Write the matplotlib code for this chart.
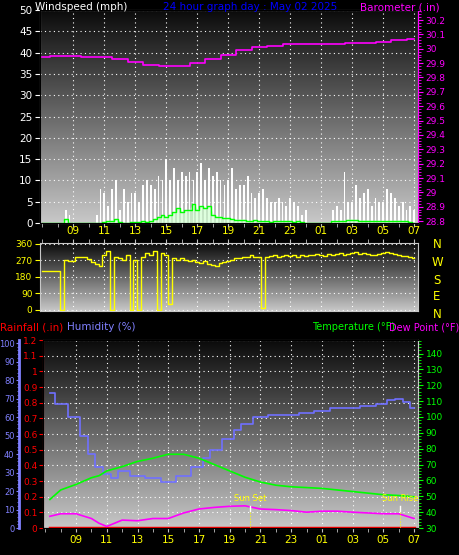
import numpy as np
import matplotlib
matplotlib.use("Agg")
import matplotlib.pyplot as plt
from matplotlib.ticker import MultipleLocator
from matplotlib.colors import LinearSegmentedColormap

# ---- data ----
t15 = [7 + 0.25 * i for i in range(97)]
gust = [0,0,0,0, 0,0,3,2, 0,0,0,0, 0,0,2,8, 7,4,8,10, 3,8,5,7, 7,5,9,10, 9,8,11,10,
        15,10,13,10, 12,11,12,10, 12,14,10,13, 11,12,10,9, 10,13,8,9, 9,11,7,6, 7,8,6,5,
        5,6,5,4, 6,5,4,2, 3,0,0,0, 0,0,0,3, 4,3,12,5, 5,9,6,7, 8,4,6,5, 5,8,7,6, 4,5,3,4, 3]
avg = [0,0,0,0, 0,0,1,0, 0,0,0,0, 0,0,0,0, 0.3,0.5,0.5,1, 0.2,0,0,0.3, 0.2,0.3,0.5,0.3,
       0.4,1,1.5,1.8, 1.5,2,2.5,3.5, 2.5,3,3,4.5, 3,4,3.5,4, 2,1.5,1.5,1.2, 1.2,1,0.8,0.8,
       0.8,0.5,0.6,0.7, 0.5,0.4,0.5,0.3, 0.5,0.4,0.5,0.6, 0.5,0.3,0.5,0.2, 0,0,0,0, 0,0,0,0.5,
       0.5,0.5,0.6,0.8, 0.8,0.7,0.6,0.6, 0.6,0.5,0.6,0.5, 0.5,0.5,0.5,0.6, 0.6,0.5,0.5,0.3, 0]
direction = [210,210,210,210, 210,0,270,265, 265,290,290,290, 275,260,250,240, 300,320,0,290,
             280,270,300,0, 270,0,290,310, 300,320,0,310, 300,30,280,270, 280,270,265,270,
             260,255,265,250, 245,240,255,260, 265,270,280,285, 290,290,300,290, 290,10,290,295,
             300,290,295,300, 295,300,290,300, 295,300,300,305, 300,295,305,300, 305,310,300,305,
             310,315,305,310, 305,300,300,305, 310,315,310,305, 300,295,295,290, 285]
th = list(range(7, 32))
pressure = [29.94,29.95,29.95,29.94,29.94,29.93,29.91,29.89,29.88,29.88,29.90,29.93,29.96,
            29.99,30.01,30.02,30.03,30.03,30.03,30.03,30.04,30.04,30.05,30.06,30.07]
hum_t = [7.3,8,9,9.5,10,10.5,11,11.5,12,13,14,15,16,17,17.5,18,19,19.5,20,21,22,23,24,25,26,27,28,29,29.5,30,30.5,31]
humidity = [73,67,60,50,40,33,29,27,31,28,27,25,28,33,38,42,48,53,56,60,61,61,62,63,65,65,66,67,69,70,68,65]
tt = [7.3,8,9,10,10.5,11,12,13,14,15,16,17,18,19,20,21,22,23,24,25,26,27,28,29,30,31]
temperature = [48,54,57.5,61.7,63,66,68.7,72,74,76.5,76.5,74,70,66,62,59,57,56,55.5,55,54,53,52,51,50.5,49.7]
dewpoint = [37.4,39,39,36,33,31,35,34.6,36,36,39.5,42,43,43.7,44,42,41.6,41,40,40.6,40.6,40,39.5,39,39,36]
rain_t = [7.3, 31]
rain = [0, 0]
sun_set, sun_rise = 20.33, 30.1
xticks = list(range(9, 32, 2))
xlabels = ["%02d" % (h % 24) for h in xticks]

fig = plt.figure(figsize=(4.6, 5.55), dpi=100, facecolor="black")
FS = 6.5
TF = 7.5
grad = np.linspace(0, 1, 256).reshape(-1, 1)
cm = LinearSegmentedColormap.from_list("g", ["#0a0a0a", "#c8c8c8"])

def setup(ax, where="bottom"):
    ax.set_facecolor("black")
    ax.imshow(grad, aspect="auto", cmap=cm, extent=[0, 1, 0, 1], transform=ax.transAxes, zorder=0)
    ax.set_xlim(6.85, 31.25)
    ax.set_xticks(xticks)
    ax.set_xticklabels(xlabels, color="yellow", fontsize=TF)
    ax.xaxis.set_minor_locator(MultipleLocator(1))
    ax.tick_params(axis="x", which="both", colors="#c0c0c0", labelcolor="yellow", length=3, pad=2)
    if where == "top":
        ax.tick_params(axis="x", which="both", top=True, bottom=False, labeltop=True, labelbottom=False)
    elif where == "none":
        ax.tick_params(axis="x", labelbottom=False)
    ax.grid(True, color="white", linestyle=(0, (1, 3)), linewidth=0.8)
    for s in ax.spines.values():
        s.set_color("#c8c8c8")

# top panel
ax1 = fig.add_axes([0.087, 0.598, 0.822, 0.384])
setup(ax1, "none")
ax1.set_ylim(0, 50)
ax1.set_yticks(range(0, 51, 5))
ax1.tick_params(axis="y", colors="white", labelsize=TF, pad=2)
ax1.bar(t15, gust, width=0.12, color="white", zorder=2)
ax1.fill_between(t15, avg, color="#c8ffc8", alpha=0.6, zorder=3)
ax1.plot(t15, avg, color="#00ff00", lw=1, drawstyle="steps-mid", zorder=4)
ax1b = ax1.twinx()
ax1b.set_ylim(28.786, 30.27)
bt = np.arange(28.8, 30.25, 0.1)
ax1b.set_yticks(bt)
ax1b.set_yticklabels(["%g" % round(v, 1) for v in bt])
ax1b.yaxis.set_minor_locator(MultipleLocator(0.02))
ax1b.tick_params(axis="y", which="both", colors="magenta", labelsize=FS, pad=2)
ax1b.spines["right"].set_color("magenta")
ax1b.plot(th, pressure, color="magenta", lw=1.2, drawstyle="steps-mid", zorder=5)

# middle panel
ax2 = fig.add_axes([0.087, 0.44, 0.822, 0.1225])
setup(ax2, "top")
ax2.set_ylim(-5, 365)
ax2.set_yticks([0, 90, 180, 270, 360])
ax2.tick_params(axis="y", colors="yellow", labelsize=FS, pad=2)
ax2.plot(t15, direction, color="yellow", lw=1, drawstyle="steps-mid")
for lab, yy in zip(["N", "W", "S", "E", "N"], [245, 263, 280, 297, 314]):
    fig.text(437/460, 1 - yy/555, lab, color="yellow", fontsize=8.5, ha="center", va="center")

# bottom panel
ax3 = fig.add_axes([0.0935, 0.0486, 0.815, 0.3387])
setup(ax3)
ax3.set_ylim(0, 1.19)
rt = np.arange(0, 1.25, 0.1)
ax3.set_yticks(rt)
ax3.set_yticklabels(["%g" % round(v, 1) for v in rt])
ax3.tick_params(axis="y", colors="red", labelsize=FS, pad=1, length=3)
ax3.spines["left"].set_color("red")
ax3.plot(rain_t, rain, color="red", lw=2.5, zorder=6)
axh = ax3.twinx()
axh.yaxis.tick_left(); axh.yaxis.set_label_position("left")
axh.spines["left"].set_position(("outward", 17))
axh.spines["left"].set_visible(True)
axh.spines["left"].set_color("#8080ff"); axh.spines["left"].set_linewidth(2)
axh.set_ylim(0, 101.6)
axh.set_yticks(range(0, 101, 10))
axh.yaxis.set_minor_locator(MultipleLocator(2))
axh.tick_params(axis="y", which="both", colors="#8080ff", labelsize=6, pad=1, length=2.5)
axh.tick_params(axis="y", which="minor", length=1.5)
axh.plot(hum_t, humidity, color="#7070ff", lw=1.2, drawstyle="steps-mid")
axt = ax3.twinx()
axt.set_ylim(30, 148.5)
axt.set_yticks(range(30, 141, 10))
axt.yaxis.set_minor_locator(MultipleLocator(2))
axt.tick_params(axis="y", which="both", colors="#00ff00", labelsize=FS, pad=2)
axt.spines["right"].set_color("#c8c8c8")
axt.plot(tt, temperature, color="#00ff00", lw=1.2)
axt.plot(tt, dewpoint, color="magenta", lw=1.2)
for x, lab in [(sun_set, "Sun Set"), (sun_rise, "Sun Rise")]:
    axt.plot([x, x], [30, 44], color="yellow", lw=0.8, linestyle=":")
    axt.plot([x, x], [41, 44], color="white", lw=1)
    axt.text(x, 46, lab, color="yellow", fontsize=6, ha="center", va="bottom")

# titles
fig.text(35/460, 1 - 7/555, "Windspeed (mph)", color="white", fontsize=TF, va="center")
fig.text(250/460, 1 - 7/555, "24 hour graph day : May 02 2025", color="#0000ff", fontsize=TF, ha="center", va="center")
fig.text(440/460, 1 - 7/555, "Barometer (.in)", color="magenta", fontsize=TF, ha="right", va="center")
fig.text(0, 1 - 327/555, "Rainfall (.in)", color="red", fontsize=TF, va="center")
fig.text(67/460, 1 - 327/555, "Humidity (%)", color="#8080ff", fontsize=TF, va="center")
fig.text(312/460, 1 - 327/555, "Temperature (°F)", color="#00ff00", fontsize=TF-0.5, va="center")
fig.text(389/460, 1 - 327/555, "Dew Point (°F)", color="magenta", fontsize=TF-0.5, va="center")

fig.savefig("out.png", dpi=100, facecolor="black")
